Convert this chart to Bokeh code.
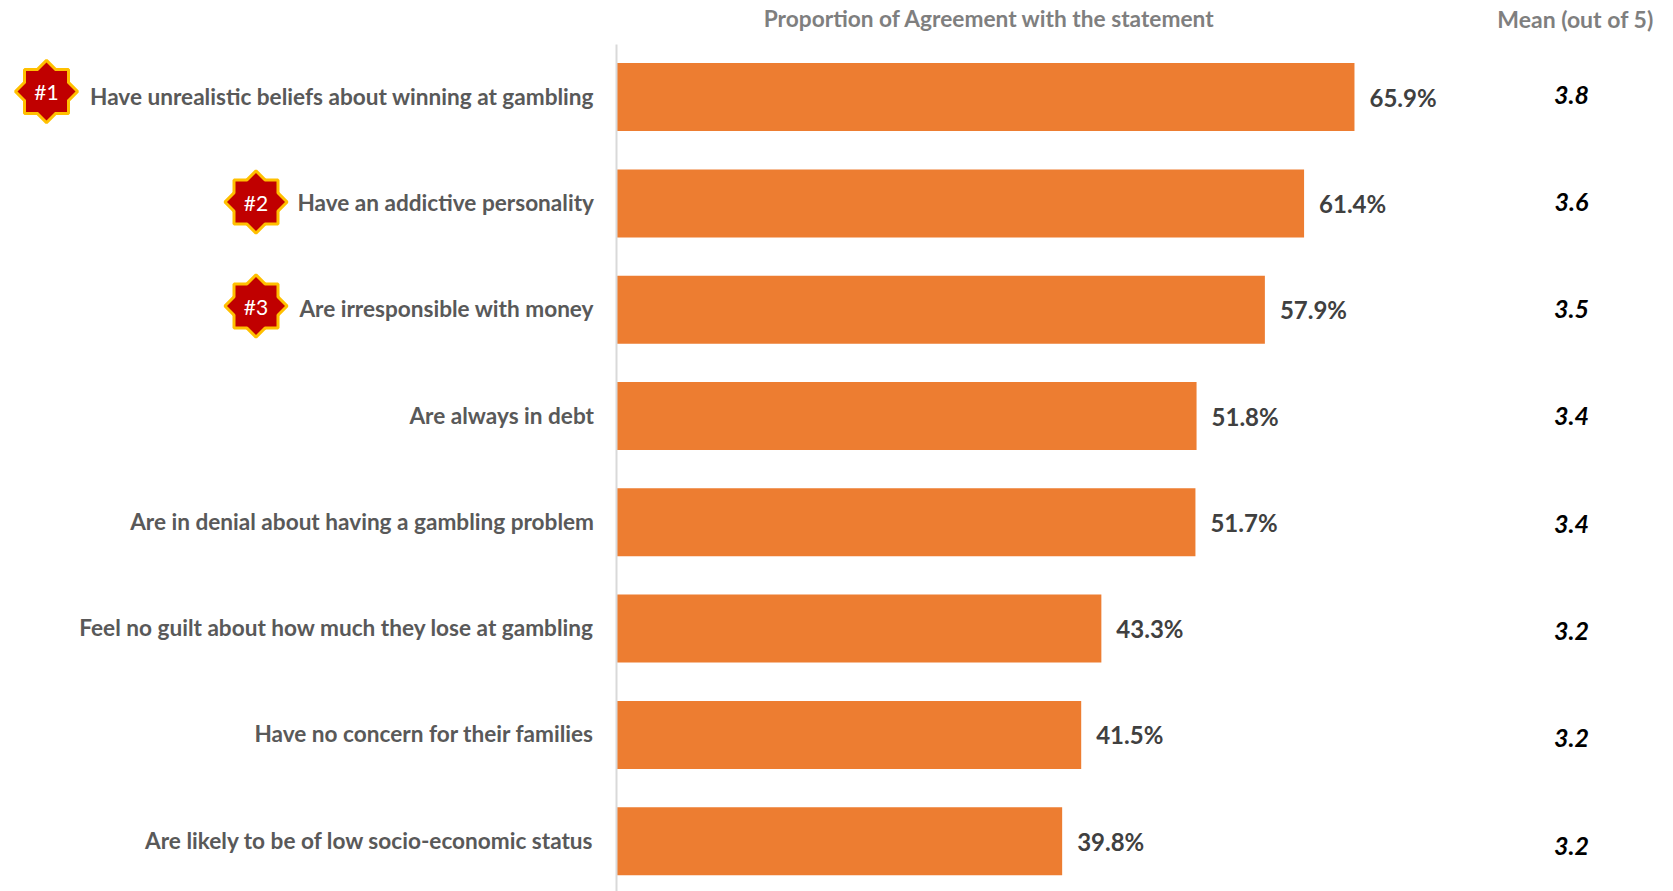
from bokeh.plotting import figure
from bokeh.models import ColumnDataSource, Range1d, LinearAxis, FixedTicker
from bokeh.core.properties import value
from bokeh.embed import file_html
from bokeh.resources import INLINE

categories = [
    "Have unrealistic beliefs about winning at gambling",
    "Have an addictive personality",
    "Are irresponsible with money",
    "Are always in debt",
    "Are in denial about having a gambling problem",
    "Feel no guilt about how much they lose at gambling",
    "Have no concern for their families",
    "Are likely to be of low socio-economic status",
]
agreement = [65.9, 61.4, 57.9, 51.8, 51.7, 43.3, 41.5, 39.8]
means = [3.8, 3.6, 3.5, 3.4, 3.4, 3.2, 3.2, 3.2]
badges = ["#1", "#2", "#3"]
header_agreement = "Proportion of Agreement with the statement"
header_mean = "Mean (out of 5)"

FONT = "Lato"
W, H = 1673, 891
X0, SX = 615.9, 11.2      # px of zero, px per percentage point
Y0, SY = 96.6, 106.3      # px of first bar centre, px per row
MEAN_Y0, MEAN_SY = 94.0, 107.3   # the mean column is spaced a little wider than the bars

def fx(px):
    return (px - X0) / SX

def fy(px):
    return (px - Y0) / SY

rows = list(range(len(categories)))
ticks = [r - 1.0 / SY for r in rows]

p = figure(width=W, height=H, output_backend="svg", toolbar_location=None,
           x_range=Range1d(fx(0), fx(W)), y_range=Range1d(fy(H), fy(0)),
           x_axis_location=None, y_axis_location=None,
           min_border=0, outline_line_color=None, background_fill_color="white")
p.grid.visible = False

axis = LinearAxis(fixed_location=fx(615.5), ticker=FixedTicker(ticks=ticks),
                  major_label_overrides={t: c for t, c in zip(ticks, categories)},
                  bounds=(fy(44), fy(H)),
                  axis_line_color="#D9D9D9", axis_line_width=2,
                  major_tick_line_color=None, minor_tick_line_color=None,
                  major_tick_out=0, major_tick_in=0, minor_tick_out=0, minor_tick_in=0,
                  major_label_standoff=22,
                  major_label_text_font=FONT, major_label_text_font_style="bold",
                  major_label_text_font_size="22.6px", major_label_text_color="#595959")
p.add_layout(axis, "left")

src = ColumnDataSource(dict(y=rows, v=agreement,
                            my=[fy(MEAN_Y0 + r * MEAN_SY) for r in rows],
                            vl=[f"{v:.1f}%" for v in agreement],
                            ml=[f"{m:.1f}" for m in means]))
p.hbar(y="y", left=0, right="v", height=68 / SY, source=src,
       fill_color="#ED7D31", line_color=None)

p.text(x="v", y="y", text="vl", source=src, x_offset=15, y_offset=0,
       text_font=value(FONT), text_font_style="bold", text_font_size="24px",
       text_color="#404040", text_align="left", text_baseline="middle")

p.text(x=fx(1571), y="my", text="ml", source=src,
       text_font=value(FONT), text_font_style="bold italic", text_font_size="25px",
       text_color="#000000", text_align="center", text_baseline="middle")

p.text(x=[fx(989)], y=[fy(18)], text=[header_agreement],
       text_font=value(FONT), text_font_style="bold", text_font_size="22.7px",
       text_color="#7F7F7F", text_align="center", text_baseline="middle")
p.text(x=[fx(1575)], y=[fy(18)], text=[header_mean],
       text_font=value(FONT), text_font_style="bold", text_font_size="23px",
       text_color="#7F7F7F", text_align="center", text_baseline="middle")

star_src = ColumnDataSource(dict(x=[fx(46), fx(255.5), fx(255.5)],
                                 y=[fy(91), fy(201.5), fy(305.5)], t=badges))
for ang in (0, 0.7853981634):
    p.scatter(x="x", y="y", source=star_src, marker="square", size=44, angle=ang,
              fill_color="#FFC000", line_color="#FFC000", line_width=3)
for ang in (0, 0.7853981634):
    p.scatter(x="x", y="y", source=star_src, marker="square", size=41, angle=ang,
              fill_color="#C00000", line_color=None)
p.text(x="x", y="y", text="t", source=star_src,
       text_font=value(FONT), text_font_size="21px", text_color="white",
       text_align="center", text_baseline="middle")

open("out.html", "w").write(file_html(p, INLINE))
